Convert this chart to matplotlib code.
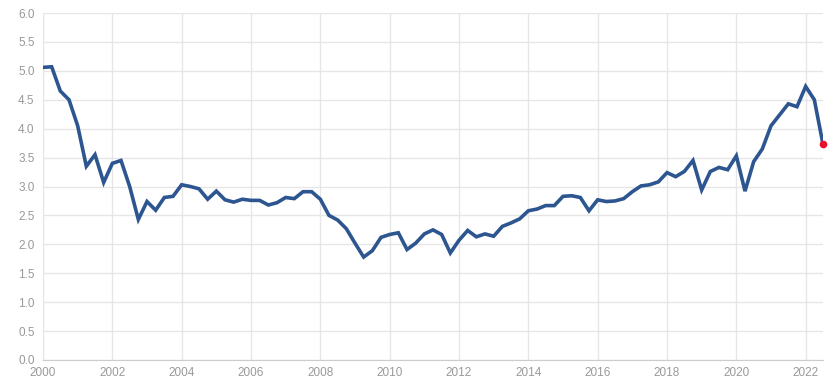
import matplotlib
matplotlib.use("Agg")
import matplotlib.pyplot as plt
import numpy as np

start_year = 2000
values = [
    5.06, 5.07, 4.65, 4.50,   # 2000
    4.05, 3.35, 3.55, 3.07,   # 2001
    3.40, 3.45, 3.00, 2.43,   # 2002
    2.74, 2.59, 2.81, 2.83,   # 2003
    3.03, 3.00, 2.96, 2.78,   # 2004
    2.92, 2.77, 2.73, 2.78,   # 2005
    2.76, 2.76, 2.68, 2.72,   # 2006
    2.81, 2.79, 2.91, 2.91,   # 2007
    2.78, 2.50, 2.42, 2.27,   # 2008
    2.02, 1.78, 1.89, 2.12,   # 2009
    2.17, 2.20, 1.91, 2.02,   # 2010
    2.18, 2.25, 2.17, 1.85,   # 2011
    2.07, 2.24, 2.13, 2.18,   # 2012
    2.14, 2.31, 2.37, 2.44,   # 2013
    2.58, 2.61, 2.67, 2.67,   # 2014
    2.83, 2.84, 2.81, 2.58,   # 2015
    2.77, 2.74, 2.75, 2.79,   # 2016
    2.91, 3.01, 3.03, 3.08,   # 2017
    3.24, 3.17, 3.26, 3.45,   # 2018
    2.94, 3.26, 3.33, 3.29,   # 2019
    3.53, 2.92, 3.43, 3.65,   # 2020
    4.05, 4.24, 4.43, 4.38,   # 2021
    4.73, 4.50, 3.73,         # 2022
]
x_ticks = list(range(2000, 2023, 2))
y_ticks = [0.0, 0.5, 1.0, 1.5, 2.0, 2.5, 3.0, 3.5, 4.0, 4.5, 5.0, 5.5, 6.0]

x = start_year + np.arange(len(values)) / 4.0

plt.rcParams['font.family'] = ['Liberation Sans', 'DejaVu Sans']
fig = plt.figure(figsize=(8.31, 3.87), dpi=100)
ax = fig.add_axes([43/831, 1 - 360/387, (823 - 43)/831, (360 - 13)/387])

ax.plot(x, values, color='#2d5590', lw=2.6, solid_joinstyle='miter', zorder=3)
ax.plot(x[-1], values[-1], 'o', color='#e8112d', ms=4.5, zorder=4, clip_on=False)

ax.set_xlim(2000, x[-1])
ax.set_ylim(0, 6)
ax.set_xticks(x_ticks)
ax.set_yticks(y_ticks)
ax.set_xticklabels([str(t) for t in x_ticks])
ax.set_yticklabels([f"{t:.1f}" for t in y_ticks])
ax.grid(True, color='#e6e6e6', lw=1)
ax.set_axisbelow(True)
for s in ['top', 'right']:
    ax.spines[s].set_visible(False)
ax.spines['left'].set_color('#e6e6e6')
ax.spines['bottom'].set_color('#cccccc')
ax.tick_params(length=0, labelsize=8.5, labelcolor='#999999')
ax.tick_params(axis='x', pad=5)
ax.tick_params(axis='y', pad=6)

fig.savefig('out.png', dpi=100)
